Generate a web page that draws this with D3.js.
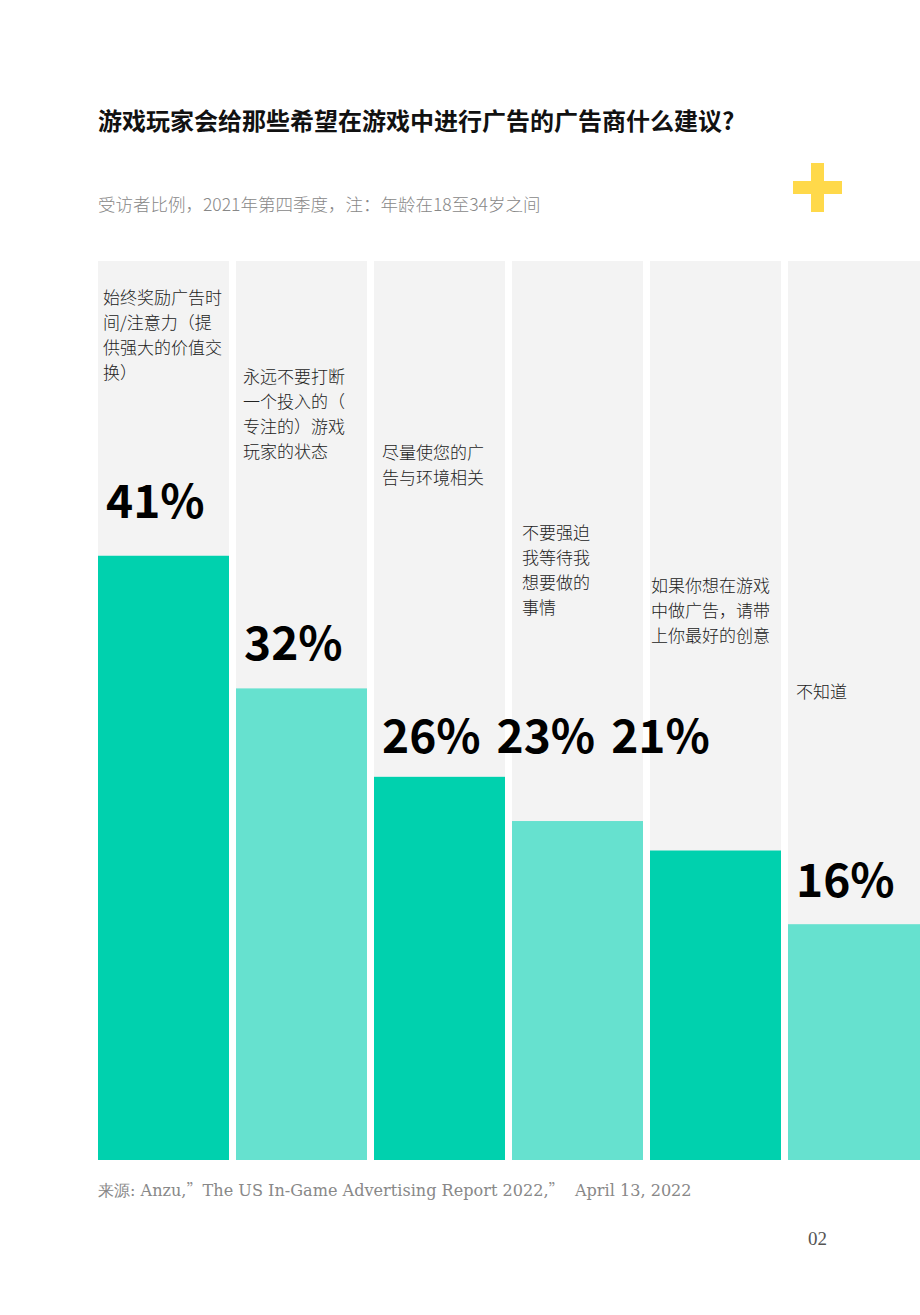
<!DOCTYPE html>
<html><head><meta charset="utf-8">
<script src="https://cdn.jsdelivr.net/npm/d3@7"></script>
<style>
html,body{margin:0;padding:0;background:#fff;}
svg{display:block;}
</style></head>
<body>
<svg id="chart" width="920" height="1315"></svg>
<script>
// ---- data ----
const categories = [
  ["始终奖励广告时","间/注意力（提","供强大的价值交","换）"],
  ["永远不要打断","一个投入的（","专注的）游戏","玩家的状态"],
  ["尽量使您的广","告与环境相关"],
  ["不要强迫","我等待我","想要做的","事情"],
  ["如果你想在游戏","中做广告，请带","上你最好的创意"],
  ["不知道"]
];
const values = [41, 32, 26, 23, 21, 16];
const valueLabels = ["41%", "32%", "26%", "23%", "21%", "16%"];
const title = "游戏玩家会给那些希望在游戏中进行广告的广告商什么建议?";
const subtitle = "受访者比例，2021年第四季度，注：年龄在18至34岁之间";
const sourceParts = ["来源: Anzu,", "”", "The US In-Game Advertising Report 2022,", "”", "  April 13, 2022"];
const pageNum = "02";

// ---- layout ----
const svg = d3.select("#chart");
const sans = "'Noto Sans CJK SC','Noto Sans',sans-serif";
const serif = "'DejaVu Serif','Liberation Serif',serif";
const colors = ["#00d1ae", "#66e1cf"];

const x = d3.scaleBand().domain(d3.range(values.length)).range([98, 919]).paddingInner(7 / 138).paddingOuter(0);
const y = d3.scaleLinear().domain([0, 61]).range([1160, 261]);

// title
svg.append("text").attr("x", 98).attr("y", 130).attr("font-family", sans).attr("font-weight", 700)
  .attr("font-size", 24).attr("fill", "#111").text(title);
svg.append("text").attr("x", 98).attr("y", 211).attr("font-family", sans).attr("font-weight", 300)
  .attr("font-size", 17.5).attr("fill", "#888").text(subtitle);

// plus
const plus = svg.append("g").attr("fill", "#ffd94a");
plus.append("rect").attr("x", 793).attr("y", 181).attr("width", 49).attr("height", 13);
plus.append("rect").attr("x", 811).attr("y", 163).attr("width", 13).attr("height", 49);

const clip = svg.append("defs").append("clipPath").attr("id", "pg");
clip.append("rect").attr("x", 0).attr("y", 0).attr("width", 920).attr("height", 1315);
const g = svg.append("g").attr("clip-path", "url(#pg)");

// background columns
g.selectAll("rect.bg").data(values).join("rect").attr("class", "bg")
  .attr("x", (d, i) => x(i)).attr("width", (d, i) => i === values.length - 1 ? 920 - x(i) : x.bandwidth())
  .attr("y", y(61)).attr("height", y(0) - y(61)).attr("fill", "#f3f3f3");

// bars
g.selectAll("rect.bar").data(values).join("rect").attr("class", "bar")
  .attr("x", (d, i) => x(i)).attr("width", (d, i) => i === values.length - 1 ? 920 - x(i) : x.bandwidth())
  .attr("y", d => y(d)).attr("height", d => y(0) - y(d))
  .attr("fill", (d, i) => colors[i % 2]);

// category labels
const labelTop = [298, 377, 453, 533, 586, 692];
const labelDx = [5, 7, 8, 10, 1, 8];
categories.forEach((lines, i) => {
  const t = g.append("text").attr("font-family", sans).attr("font-weight", 300)
    .attr("font-size", 17).attr("fill", "#222");
  lines.forEach((ln, j) => {
    t.append("tspan").attr("x", x(i) + labelDx[i]).attr("y", labelTop[i] + 6 + j * 25).text(ln);
  });
});

// value labels
const valBase = [518, 660, 753, 753, 753, 897];
let prevEnd = null;
valueLabels.forEach((lab, i) => {
  let lx = x(i) + 8;
  if (i === 3 || i === 4) lx = prevEnd + 16;
  const t = g.append("text").attr("x", lx).attr("y", valBase[i]).attr("font-family", sans)
    .attr("font-weight", 700).attr("font-size", 46).attr("fill", "#000").text(lab);
  prevEnd = lx + t.node().getComputedTextLength();
});

// source + page
const src = svg.append("text").attr("x", 98).attr("y", 1196).attr("font-family", serif)
  .attr("font-size", 16.1).attr("fill", "#888").attr("xml:space", "preserve");
sourceParts.forEach(p => {
  const ts = src.append("tspan").text(p);
  if (p === "”") ts.attr("font-family", sans).attr("font-weight", 300);
});
svg.append("text").attr("x", 808).attr("y", 1245).attr("font-family", "'Liberation Serif',serif")
  .attr("font-size", 19).attr("fill", "#555").text(pageNum);
</script>
</body></html>
